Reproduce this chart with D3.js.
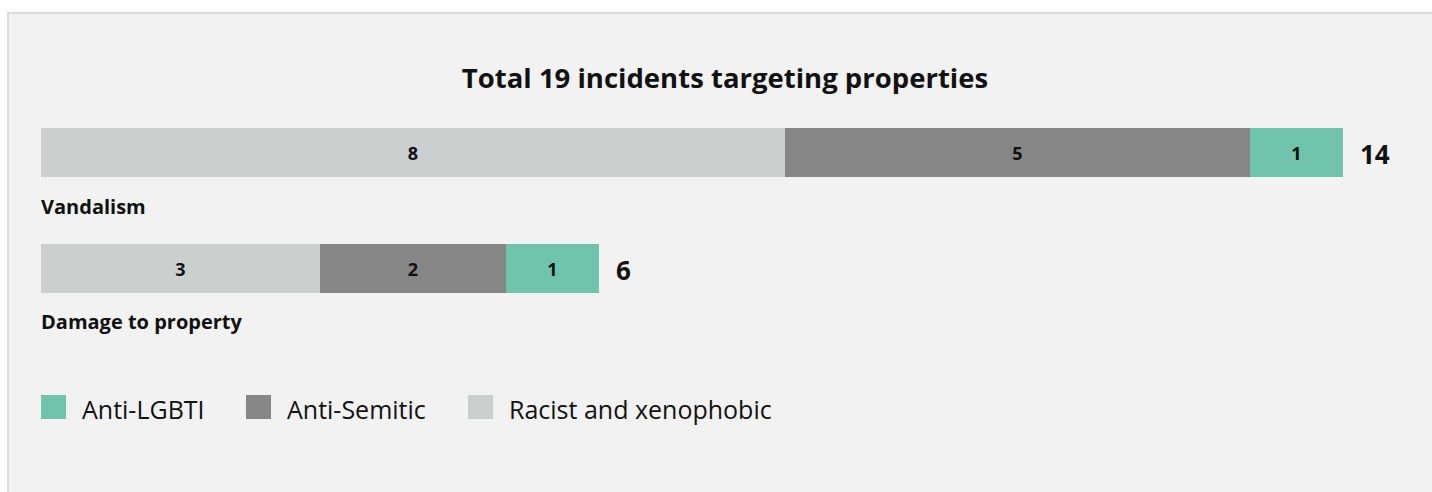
<!DOCTYPE html>
<meta charset="utf-8">
<style>
  body { margin: 0; background: #fff; }
  text { font-family: "Open Sans", sans-serif; fill: #111; }
</style>
<body>
<svg width="1432" height="492"></svg>
<script src="https://d3js.org/d3.v7.min.js"></script>
<script>

// data
var categories = ["Vandalism", "Damage to property"];
var racist = [8, 3];
var semitic = [5, 2];
var lgbti = [1, 1];
var seriesNames = ["Racist and xenophobic", "Anti-Semitic", "Anti-LGBTI"];
var legendOrder = ["Anti-LGBTI", "Anti-Semitic", "Racist and xenophobic"];
var colors = {"Racist and xenophobic": "#cbcfce", "Anti-Semitic": "#868686", "Anti-LGBTI": "#6fc4ab"};

const svg = d3.select('svg');

// panel
svg.append('rect')
  .attr('x', 8).attr('y', 13)
  .attr('width', 1440).attr('height', 500)
  .attr('fill', '#f2f2f2')
  .attr('stroke', '#dcdcdc')
  .attr('stroke-width', 2);

svg.append('text')
  .attr('x', 725).attr('y', 88)
  .attr('text-anchor', 'middle')
  .style('font-size', '27.5px')
  .style('font-weight', 'bold')
  .text('Total 19 incidents targeting properties');

var rows = categories.map(function(c, i) {
  return {cat: c, "Racist and xenophobic": racist[i], "Anti-Semitic": semitic[i], "Anti-LGBTI": lgbti[i]};
});
var stack = d3.stack().keys(seriesNames)(rows);

var x = d3.scaleLinear().domain([0, 14]).range([41, 1343]);
var barH = 49;
var step = 116;

function rowTop(i) { return 128 + i * step; }

stack.forEach(function(layer) {
  var g = svg.append('g');
  g.selectAll('rect')
    .data(layer)
    .enter().append('rect')
    .attr('x', d => x(d[0]))
    .attr('y', (d, i) => rowTop(i))
    .attr('width', d => x(d[1]) - x(d[0]))
    .attr('height', barH)
    .attr('fill', colors[layer.key]);
  g.selectAll('text')
    .data(layer)
    .enter().append('text')
    .attr('x', d => (x(d[0]) + x(d[1])) / 2)
    .attr('y', (d, i) => rowTop(i) + barH / 2 + 7)
    .attr('text-anchor', 'middle')
    .style('font-size', '18px')
    .style('font-weight', 'bold')
    .text(d => d[1] - d[0]);
});

// totals
svg.selectAll('.total')
  .data(rows)
  .enter().append('text')
  .attr('class', 'total')
  .attr('x', d => x(d["Racist and xenophobic"] + d["Anti-Semitic"] + d["Anti-LGBTI"]) + 17)
  .attr('y', (d, i) => rowTop(i) + barH / 2 + 11)
  .style('font-size', '26px')
  .style('font-weight', 'bold')
  .text(d => d["Racist and xenophobic"] + d["Anti-Semitic"] + d["Anti-LGBTI"]);

// category labels
svg.selectAll('.cat')
  .data(categories)
  .enter().append('text')
  .attr('class', 'cat')
  .attr('x', 41)
  .attr('y', (d, i) => rowTop(i) + 86 - i)
  .style('font-size', '20px')
  .style('font-weight', 'bold')
  .text(d => d);

// legend
var legendX = [41, 246, 468];
var legend = svg.selectAll('.legend')
  .data(legendOrder)
  .enter().append('g')
  .attr('class', 'legend')
  .attr('transform', (d, i) => 'translate(' + legendX[i] + ',395)');
legend.append('rect')
  .attr('width', 25).attr('height', 24)
  .attr('fill', d => colors[d]);
legend.append('text')
  .attr('x', 41).attr('y', 24)
  .style('font-size', '25px')
  .text(d => d);

</script>
</body>
